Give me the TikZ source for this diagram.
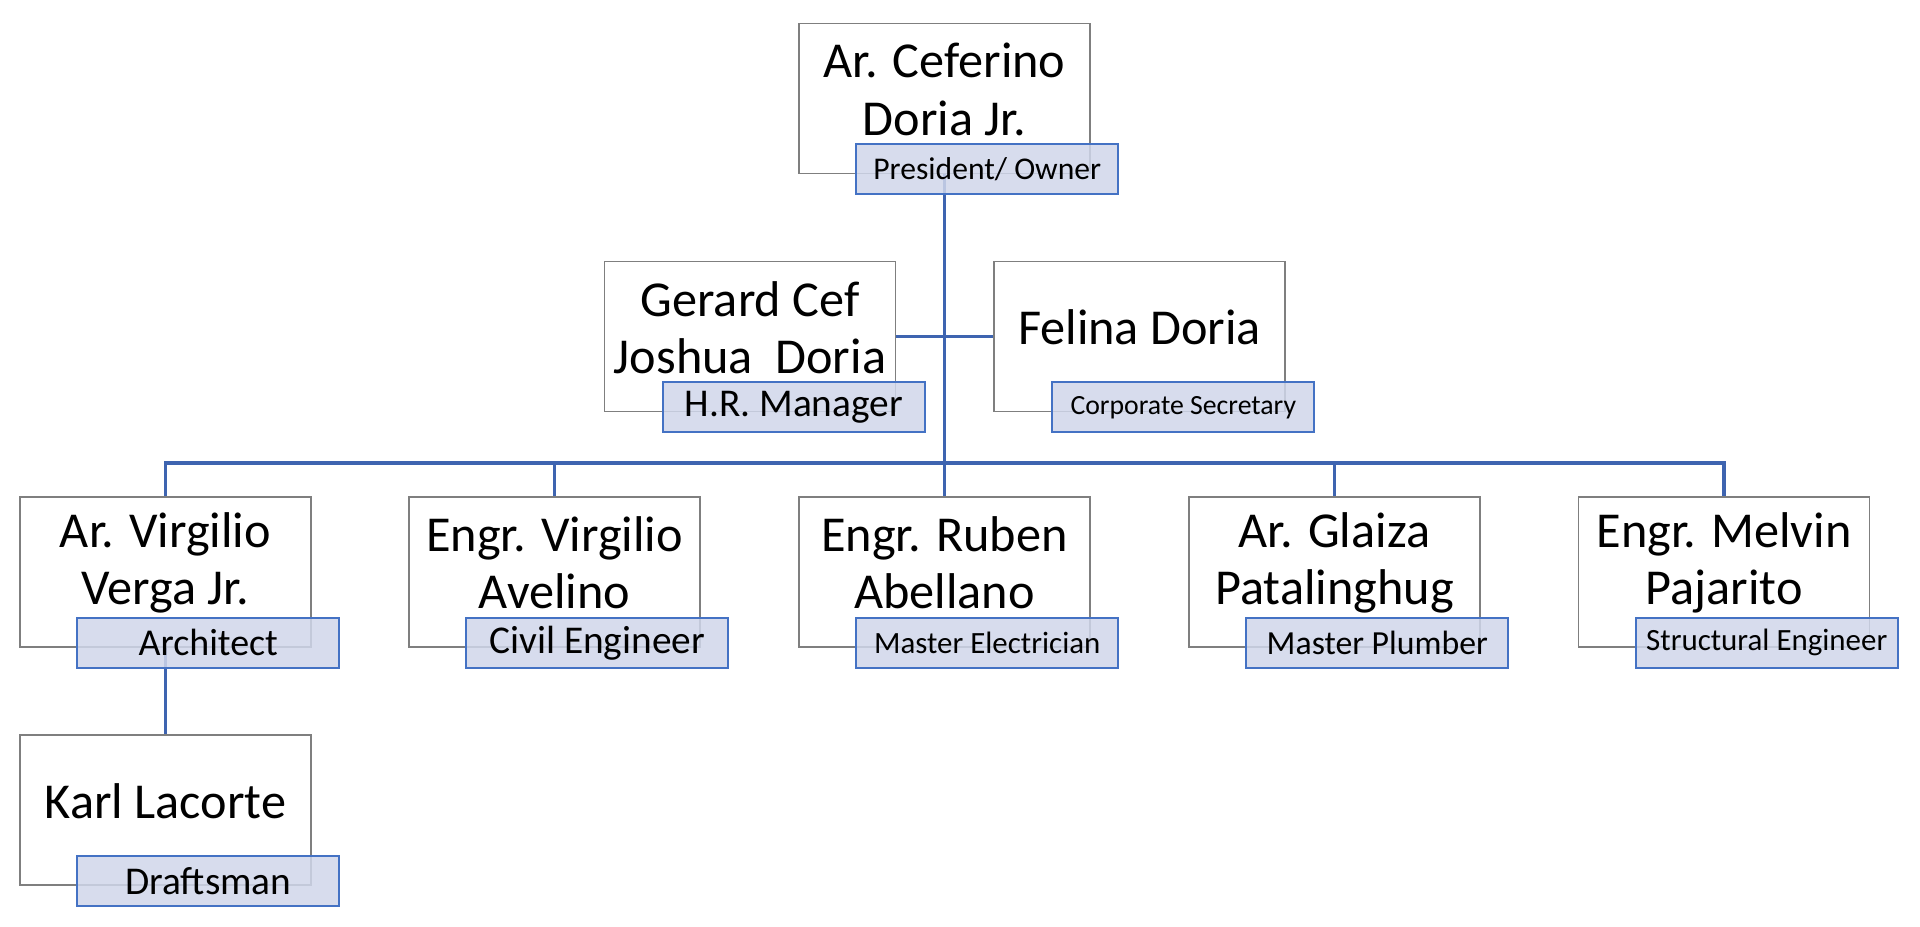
\documentclass[tikz,border=0pt]{standalone}
\usepackage{fontspec}
\setmainfont{Carlito}
\usetikzlibrary{positioning,backgrounds}
\definecolor{boxgray}{RGB}{127,127,127}
\definecolor{rolefill}{RGB}{208,214,234}
\definecolor{roleline}{RGB}{68,114,196}
\definecolor{linkblue}{RGB}{62,100,176}
\tikzset{
  person/.style   = {draw=boxgray, line width=0.45pt, minimum width=2.91cm,
                     minimum height=1.5cm, inner sep=0pt},
  fullname/.style = {align=center, inner sep=0pt, yshift=0.9mm,
                     font=\fontsize{14.3}{16.3}\selectfont},
  role/.style     = {draw=roleline, line width=0.6pt, fill=rolefill,
                     fill opacity=0.85, text opacity=1, minimum width=2.62cm,
                     minimum height=0.5cm, inner sep=0pt, anchor=north west},
  bigrole/.style  = {role, font=\fontsize{11.2}{12}\selectfont},
  smallrole/.style= {role, font=\fontsize{8.8}{10}\selectfont},
  link/.style     = {draw=linkblue, line width=0.9pt},
}

\begin{document}
\begin{tikzpicture}
  \useasboundingbox (0,0) rectangle (19.2,-9.27);
  % people
  \node[person, label={[fullname]center:Ar. Ceferino\\Doria Jr.}]      (pres)     at (9.445,-0.985) {};
  \node[person, label={[fullname]center:Gerard Cef\\Joshua~ Doria}]    (gerard)   at (7.50,-3.365)  {};
  \node[person, label={[fullname]center:Felina Doria}]                 (felina)   at (11.395,-3.365) {};
  \node[person, label={[fullname]center:Ar. Virgilio\\Verga Jr.}]      (virgilio) at (1.655,-5.72)  {};
  \node[person, label={[fullname]center:Engr. Virgilio\\Avelino}]      (avelino)  at (5.545,-5.72)  {};
  \node[person, label={[fullname]center:Engr. Ruben\\Abellano}]        (ruben)    at (9.445,-5.72)  {};
  \node[person, label={[fullname]center:Ar. Glaiza\\Patalinghug}]      (glaiza)   at (13.345,-5.72) {};
  \node[person, label={[fullname]center:Engr. Melvin\\Pajarito}]       (melvin)   at (17.24,-5.72)  {};
  \node[person, label={[fullname]center:Karl Lacorte}]                 (karl)     at (1.655,-8.10)  {};
  % roles
  \node[smallrole, font=\fontsize{9}{10}\selectfont] (presrole) at ([shift={(0.57,0.31)}]pres.south west) {President/ Owner};
  \node[bigrole] (gerardrole) at ([shift={(0.58,0.31)}]gerard.south west) {H.R. Manager};
  \node[smallrole, font=\fontsize{7.9}{9}\selectfont] (felinarole) at ([shift={(0.58,0.31)}]felina.south west) {Corporate Secretary};
  \node[bigrole, font=\fontsize{10.8}{12}\selectfont] (virgiliorole) at ([shift={(0.57,0.31)}]virgilio.south west) {Architect};
  \node[bigrole] (avelinorole) at ([shift={(0.57,0.31)}]avelino.south west) {Civil Engineer};
  \node[smallrole] (rubenrole) at ([shift={(0.57,0.31)}]ruben.south west) {Master Electrician};
  \node[smallrole, font=\fontsize{9.6}{10}\selectfont] (glaizarole) at ([shift={(0.57,0.31)}]glaiza.south west) {Master Plumber};
  \node[smallrole] (melvinrole) at ([shift={(0.57,0.31)}]melvin.south west) {Structural Engineer};
  \node[bigrole] (karlrole) at ([shift={(0.57,0.31)}]karl.south west) {Draftsman};
  % connectors
  \coordinate (bus) at (9.445,-4.63);
  \begin{scope}[on background layer]
    \draw[link] (pres.south) -- (ruben.north);
    \draw[link] (gerard.east) -- (felina.west);
    \draw[link] (virgilio.north) |- (bus) -| (melvin.north);
    \foreach \n in {avelino,glaiza}
      \draw[link] (\n.north) -- (\n.north |- bus);
    \draw[link] (virgilio.south) -- (karl.north);
  \end{scope}
\end{tikzpicture}
\end{document}
